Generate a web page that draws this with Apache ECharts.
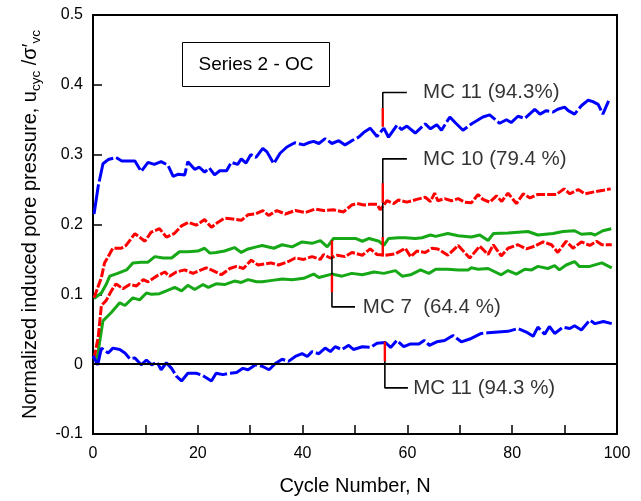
<!DOCTYPE html>
<html><head><meta charset="utf-8">
<script src="https://cdn.jsdelivr.net/npm/echarts@6/dist/echarts.min.js"></script>
<style>html,body{margin:0;padding:0;background:#fff}#c{width:641px;height:501px}</style>
</head><body><div id="c"></div>
<script>
const xTicks = [0, 20, 40, 60, 80, 100];
const yTicks = [-0.1, 0, 0.1, 0.2, 0.3, 0.4, 0.5];

// MC 11 (94.3%) upper curve
const mc11Top = [[0.2,0.215],[1,0.255],[1.9,0.287],[2.9,0.293],[4.4,0.296],[5.5,0.291],[7,0.291],[8,0.291],[9.2,0.276],[10.5,0.289],[11.7,0.286],[13,0.29],[14.3,0.285],[15.3,0.269],[16.3,0.272],[17.5,0.271],[18.1,0.29],[19.4,0.279],[20.3,0.282],[21.3,0.275],[22.2,0.281],[23.2,0.271],[24.2,0.277],[25.5,0.277],[26.4,0.289],[27.6,0.286],[28.3,0.294],[29.2,0.288],[30.1,0.300],[31.1,0.296],[32.4,0.309],[33.2,0.304],[34.5,0.287],[35.7,0.302],[37,0.311],[38.5,0.317],[40.2,0.314],[41.1,0.317],[42.1,0.319],[43.1,0.316],[44.3,0.323],[45.6,0.316],[46.9,0.32],[48.1,0.314],[49.4,0.32],[50.7,0.325],[51.7,0.332],[52.9,0.338],[54.2,0.326],[55.5,0.338],[56.4,0.325],[58,0.342],[58.9,0.336],[59.9,0.341],[61.5,0.331],[63.4,0.344],[64.4,0.337],[65.6,0.343],[66.5,0.335],[68.1,0.354],[69.1,0.346],[70.6,0.335],[72.2,0.344],[74.4,0.354],[75.7,0.357],[77.6,0.345],[78.9,0.35],[79.8,0.346],[81.1,0.355],[82.4,0.352],[84.3,0.365],[85.3,0.358],[86.5,0.363],[87.8,0.361],[88.7,0.365],[90,0.368],[90.7,0.363],[91.9,0.358],[93.2,0.370],[94.5,0.378],[95.4,0.376],[96.4,0.372],[97.3,0.358],[98.4,0.377]];
// MC 10 (79.4 %) upper curve
const mc10Top = [[0.2,0.095],[1.6,0.124],[2.2,0.145],[3.8,0.166],[5.4,0.166],[6.3,0.170],[8,0.187],[9.9,0.176],[11.1,0.189],[12.7,0.194],[14,0.182],[15.5,0.187],[16.9,0.198],[18.2,0.203],[19.7,0.199],[21.3,0.207],[22.6,0.196],[23.8,0.203],[25.1,0.209],[26.7,0.208],[28.3,0.206],[29.6,0.214],[30.9,0.215],[32.4,0.22],[33.5,0.213],[35.1,0.22],[36.7,0.215],[38.6,0.22],[40.5,0.217],[42.4,0.222],[44,0.22],[45.9,0.221],[47.8,0.218],[49.4,0.228],[50.4,0.23],[51.7,0.228],[52.9,0.229],[54.2,0.229],[54.8,0.221],[56.1,0.234],[57.4,0.23],[58.3,0.235],[59.9,0.232],[61.8,0.236],[63.4,0.239],[64.4,0.233],[65.2,0.245],[65.8,0.234],[67.1,0.237],[68.4,0.234],[69.7,0.237],[70.9,0.232],[72.2,0.231],[73.5,0.243],[74.4,0.236],[75.7,0.232],[77,0.241],[78,0.233],[79.2,0.245],[80.8,0.23],[82.1,0.244],[83.4,0.238],[84.9,0.243],[86.8,0.243],[88.4,0.243],[89.9,0.251],[91,0.244],[92.6,0.25],[93.9,0.244],[95.8,0.247],[97.4,0.249],[98.8,0.251]];
// MC 7 (64.4 %) upper curve
const mc7Top = [[0.2,0.094],[1.6,0.102],[2.5,0.114],[3.2,0.126],[4.7,0.13],[6.4,0.135],[7.6,0.145],[9.2,0.146],[10.5,0.146],[11.8,0.154],[13.4,0.152],[15,0.152],[16.5,0.161],[18.1,0.161],[20,0.162],[21.3,0.166],[22.3,0.159],[23.5,0.16],[25.1,0.162],[27,0.167],[28.3,0.16],[29.6,0.165],[31.2,0.168],[32.3,0.17],[34.5,0.166],[36.1,0.171],[38,0.168],[39.9,0.175],[41.8,0.173],[43.4,0.177],[44.7,0.168],[45.9,0.180],[48,0.180],[50.1,0.180],[51.4,0.176],[52.7,0.18],[54.6,0.176],[55.5,0.170],[56.4,0.18],[58.3,0.181],[59.6,0.181],[61.5,0.18],[62.8,0.181],[64.4,0.185],[65.4,0.183],[67.7,0.187],[69.7,0.184],[72.2,0.182],[73.8,0.185],[75.4,0.177],[76.4,0.187],[79.2,0.188],[83,0.19],[84.9,0.185],[87.8,0.187],[89.7,0.19],[91.9,0.191],[93.2,0.186],[95.1,0.187],[95.8,0.185],[97.3,0.191],[98.9,0.194]];
// MC 10 (79.4 %) lower curve
const mc10Low = [[0.2,0.008],[1,0.039],[1.6,0.084],[2.5,0.091],[3.5,0.105],[4.4,0.115],[5.7,0.108],[7,0.114],[8.3,0.112],[9.6,0.121],[10.5,0.118],[12.1,0.126],[13.7,0.132],[14.6,0.126],[15.9,0.132],[17.5,0.135],[19.1,0.13],[20.3,0.134],[21.6,0.138],[22.9,0.134],[24.5,0.128],[26.1,0.137],[27.4,0.14],[28.7,0.137],[30.2,0.149],[31.5,0.142],[33.9,0.145],[35.4,0.142],[37.3,0.147],[38.6,0.152],[40.2,0.15],[41.8,0.154],[43.4,0.15],[44,0.157],[45.3,0.152],[46.6,0.156],[48.1,0.154],[49.4,0.16],[51.4,0.156],[52.9,0.165],[54.2,0.157],[55.8,0.156],[57.7,0.158],[59.6,0.166],[60.6,0.154],[61.8,0.162],[63.4,0.16],[64.7,0.166],[65.8,0.165],[67.7,0.156],[69.7,0.17],[71.9,0.152],[73.8,0.169],[75.4,0.157],[76.4,0.171],[77.9,0.155],[79.2,0.166],[81.1,0.171],[82.7,0.165],[84.3,0.169],[85.9,0.175],[87.5,0.171],[88.7,0.16],[90.3,0.176],[91.6,0.166],[93.2,0.175],[94.8,0.17],[96.1,0.176],[97.1,0.171],[99,0.171]];
// MC 7 (64.4 %) lower curve
const mc7Low = [[0.6,0.0],[1.9,0.062],[3.5,0.074],[5.1,0.088],[6.1,0.084],[7.6,0.095],[8.9,0.092],[10.2,0.102],[11.2,0.1],[12.7,0.101],[14,0.105],[15.6,0.11],[16.9,0.105],[18.1,0.113],[19.4,0.107],[21,0.114],[22,0.11],[23.5,0.115],[25.1,0.114],[27,0.119],[28.3,0.117],[29.6,0.121],[31.2,0.118],[32.3,0.118],[34.2,0.12],[36.1,0.122],[38,0.121],[40.2,0.123],[42.1,0.129],[43.1,0.124],[45.6,0.129],[47.5,0.126],[49.4,0.13],[51.4,0.128],[53.6,0.132],[55.5,0.13],[57.7,0.134],[59,0.126],[60.6,0.128],[62.5,0.135],[64.1,0.13],[65.4,0.136],[67.7,0.136],[69.7,0.135],[71.6,0.135],[72.2,0.138],[73.5,0.136],[75.4,0.137],[77.9,0.128],[79.2,0.134],[80.8,0.129],[82.4,0.136],[83.7,0.135],[84.9,0.14],[86.8,0.137],[88.1,0.141],[89,0.135],[90.3,0.142],[91.9,0.147],[92.8,0.14],[94.8,0.14],[97.1,0.145],[99,0.138]];
// MC 11 (94.3 %) lower curve
const mc11Low = [[0,0.012],[0.9,-0.001],[1.6,0.023],[2.9,0.016],[3.8,0.023],[5.1,0.021],[6.1,0.016],[7,0.008],[8,0.009],[9.2,-0.001],[10.2,0.006],[11.2,-0.001],[12.2,0.003],[13,-0.008],[14,0.002],[15,-0.006],[15.9,-0.017],[16.9,-0.024],[18.1,-0.013],[19.7,-0.013],[20.9,-0.016],[22.6,-0.024],[23.5,-0.013],[24.8,-0.015],[26.1,-0.013],[27.4,-0.012],[28.6,-0.006],[29.6,-0.008],[31,-0.001],[32.3,-0.003],[33.6,-0.008],[34.8,0.001],[36.1,0.007],[37.3,0.004],[38.6,0.011],[39.9,0.015],[40.9,0.011],[41.8,0.018],[43.1,0.015],[44.3,0.023],[45.3,0.018],[46.2,0.025],[47.5,0.021],[48.8,0.027],[49.7,0.021],[51.4,0.025],[53,0.024],[54.2,0.030],[55.8,0.031],[56.8,0.024],[58,0.034],[59.3,0.025],[60.6,0.029],[62.2,0.029],[63.2,0.034],[64.2,0.027],[65.6,0.032],[67.1,0.034],[68.7,0.041],[70.3,0.032],[71.9,0.036],[74.1,0.044],[75.4,0.045],[79.2,0.047],[81.1,0.051],[82.7,0.046],[84,0.040],[84.9,0.053],[86.2,0.043],[87.1,0.054],[88.1,0.044],[89.7,0.053],[91,0.051],[91.9,0.055],[93.2,0.049],[94.8,0.063],[95.8,0.058],[97.4,0.061],[99,0.058]];

// annotation leaders (data coordinates)
const leaderLines = [
  [[59.9,0.389],[55.3,0.389],[55.3,0.367]],
  [[59.9,0.294],[55.3,0.294],[55.3,0.156]],
  [[50.0,0.082],[45.6,0.082],[45.6,0.177]],
  [[60.1,-0.034],[55.7,-0.034],[55.7,0.032]]
];
const arrowTips = [
  [[55.3,0.367],[55.3,0.340]],
  [[55.3,0.259],[55.3,0.231]],
  [[55.3,0.182],[55.3,0.154]],
  [[45.6,0.177],[45.6,0.154]],
  [[45.6,0.128],[45.6,0.103]],
  [[55.7,0.032],[55.7,0.004]]
];
const annoLabels = [
  [63.0,0.389,'MC 11 (94.3%)'],
  [63.0,0.294,'MC 10 (79.4 %)'],
  [51.5,0.082,'MC 7  (64.4 %)'],
  [61.1,-0.034,'MC 11 (94.3 %)']
];

const FF = '"Liberation Sans", Arial, sans-serif';
const BLUE = '#0000ff', RED = '#ff0000', GREEN = '#16a816';

function curve(data, color, dash, z) {
  return {type:'line', data, showSymbol:false, symbol:'none', z:z||2, silent:true,
    lineStyle:{color, width:3, type:dash||'solid'}};
}

const series = [
  curve(mc7Top, GREEN), curve(mc7Low, GREEN),
  curve(mc10Top, RED, [9,2]), curve(mc10Low, RED, [9,2]),
  curve(mc11Top, BLUE, [30,3]), curve(mc11Low, BLUE, [30,3])
];
series[0].markLine = {silent:true, symbol:'none', label:{show:false},
  lineStyle:{color:'#000', width:2, type:'solid'}, data:[{yAxis:0}]};
leaderLines.forEach(l => series.push({type:'line', data:l, symbol:'none', silent:true, z:5,
  lineStyle:{color:'#000', width:1.6}}));
arrowTips.forEach(l => series.push({type:'line', data:l, symbol:'none', silent:true, z:6,
  lineStyle:{color:RED, width:2.4}}));
series.push({type:'scatter', symbolSize:1, itemStyle:{color:'transparent'}, silent:true, z:7,
  data: annoLabels.map(a => ({value:[a[0],a[1]], name:a[2]})),
  label:{show:true, position:'inside', align:'left', verticalAlign:'middle',
    formatter:p => p.name, color:'#000', fontSize:20.5, fontFamily:FF}});

const chart = echarts.init(document.getElementById('c'), null, {renderer:'canvas'});
chart.setOption({
  animation:false,
  backgroundColor:'#fff',
  grid:{left:93, top:15, right:24, bottom:60, show:true, borderColor:'#000', borderWidth:2},
  xAxis:{type:'value', min:0, max:100, interval:10,
    axisLine:{show:true, onZero:false, lineStyle:{color:'#000', width:2}},
    axisTick:{inside:true, length:9, lineStyle:{color:'#000', width:1.5}},
    axisLabel:{formatter:v => xTicks.indexOf(v) >= 0 ? String(v) : '', color:'#000', fontSize:16, fontFamily:FF, margin:12},
    splitLine:{show:false},
    name:'Cycle Number, N', nameLocation:'middle', nameGap:42,
    nameTextStyle:{color:'#000', fontSize:20, fontFamily:FF}},
  yAxis:{type:'value', min:-0.1, max:0.5, interval:0.1,
    axisLine:{show:true, lineStyle:{color:'#000', width:2}},
    axisTick:{inside:true, length:9, lineStyle:{color:'#000', width:1.5}},
    axisLabel:{formatter:v => { const r = Math.round(v*10)/10; return r === 0 ? '0' : r.toFixed(1); }, color:'#000', fontSize:16, fontFamily:FF, margin:10},
    splitLine:{show:false},
    name:'Normalized induced pore pressure, u{s|cyc} /σ′{s|vc}', nameLocation:'middle', nameGap:50,
    nameTextStyle:{color:'#000', fontSize:20, fontFamily:FF, lineHeight:26,
      rich:{s:{fontSize:13.5, fontFamily:FF, color:'#000', verticalAlign:'bottom', lineHeight:20}}}},
  graphic:[{type:'group', left:182, top:42, children:[
    {type:'rect', shape:{x:0, y:0, width:147, height:44}, style:{fill:'#fff', stroke:'#000', lineWidth:1}},
    {type:'text', x:73.5, y:22, style:{text:'Series 2 - OC', fill:'#000', font:'19px "Liberation Sans", Arial, sans-serif', textAlign:'center', textVerticalAlign:'middle'}}
  ]}],
  series
});
</script></body></html>
